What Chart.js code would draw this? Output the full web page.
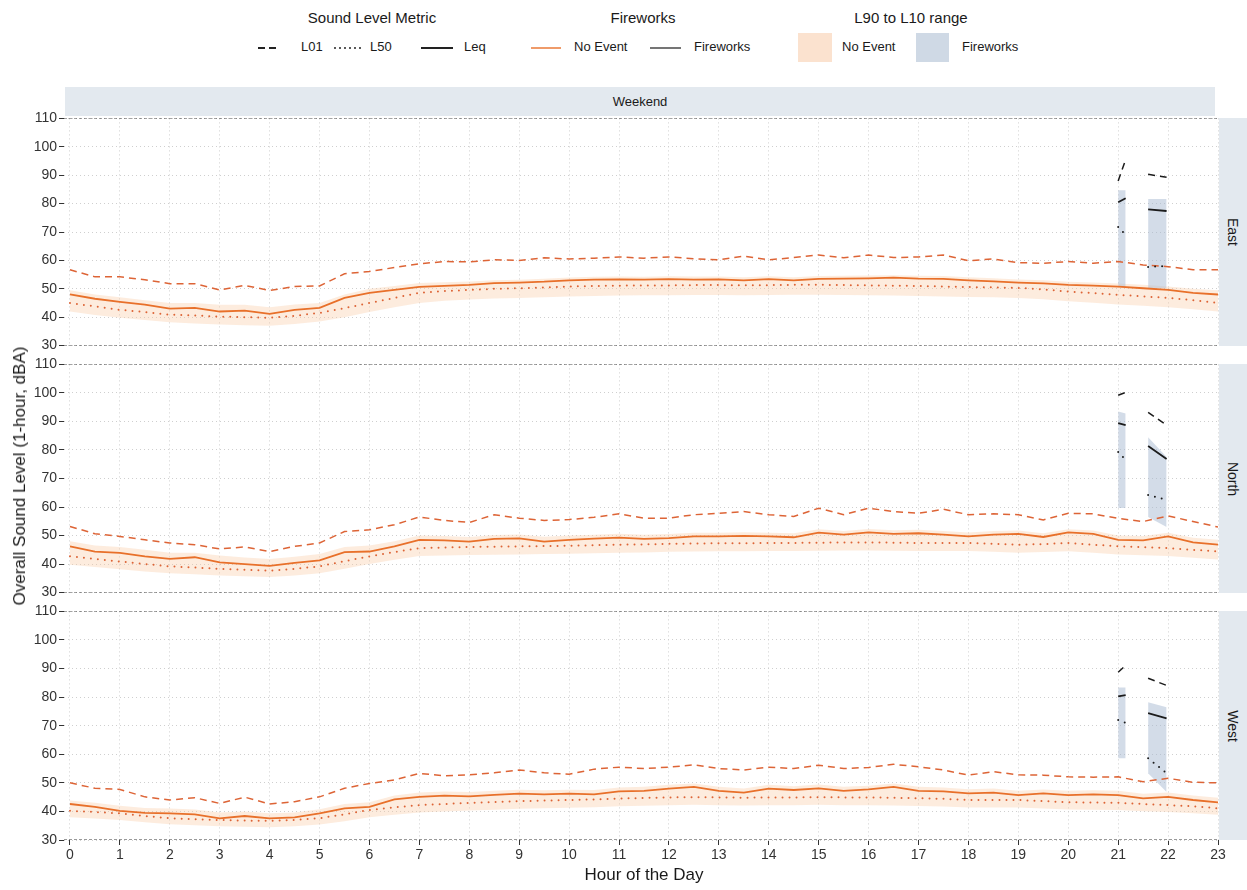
<!DOCTYPE html>
<html>
<head>
<meta charset="utf-8">
<script src="https://cdn.jsdelivr.net/npm/chart.js"></script>
<style>
  body { margin: 0; background: #fff; font-family: "Liberation Sans", Arial, sans-serif; color: #1a1a1a; }
  #page { position: relative; width: 1247px; height: 890px; overflow: hidden; }
  canvas { position: absolute; left: 0; }
  .abs { position: absolute; white-space: nowrap; }
  .strip { position: absolute; background: #e3e9ef; display: flex; align-items: center; justify-content: center; font-size: 13px; }
  .vtext { transform: rotate(90deg); font-size: 14px; }
  .ltitle { position: absolute; top: 9px; font-size: 15px; transform: translateX(-50%); }
  .llabel { position: absolute; top: 39px; font-size: 13px; }
</style>
</head>
<body>
<div id="page">
  <!-- legend -->
  <div class="ltitle" style="left:372px">Sound Level Metric</div>
  <svg class="abs" style="left:255px;top:40px" width="240" height="16">
    <line x1="3" y1="8" x2="21" y2="8" stroke="#222" stroke-width="1.8" stroke-dasharray="7,4"/>
    <line x1="80" y1="8" x2="108" y2="8" stroke="#222" stroke-width="2" stroke-dasharray="0,5" stroke-linecap="round"/>
    <line x1="166" y1="8" x2="198" y2="8" stroke="#222" stroke-width="2"/>
  </svg>
  <div class="llabel" style="left:301px">L01</div>
  <div class="llabel" style="left:370px">L50</div>
  <div class="llabel" style="left:464px">Leq</div>

  <div class="ltitle" style="left:643px">Fireworks</div>
  <svg class="abs" style="left:528px;top:40px" width="160" height="16">
    <line x1="3" y1="8" x2="33" y2="8" stroke="#e8702a" stroke-width="1.4"/>
    <line x1="122" y1="8" x2="153" y2="8" stroke="#2a2a2a" stroke-width="1.3"/>
  </svg>
  <div class="llabel" style="left:574px">No Event</div>
  <div class="llabel" style="left:694px">Fireworks</div>

  <div class="ltitle" style="left:911px">L90 to L10 range</div>
  <div class="abs" style="left:798px;top:33px;width:34px;height:29px;background:#fbe2cf"></div>
  <div class="abs" style="left:916px;top:33px;width:33px;height:29px;background:#cfd9e5"></div>
  <div class="llabel" style="left:842px">No Event</div>
  <div class="llabel" style="left:962px">Fireworks</div>

  <!-- strips -->
  <div class="strip" style="left:65px;top:87px;width:1150px;height:29px">Weekend</div>
  <div class="strip" style="left:1219px;top:118px;width:28px;height:228px"><span class="vtext">East</span></div>
  <div class="strip" style="left:1219px;top:364px;width:28px;height:229px"><span class="vtext">North</span></div>
  <div class="strip" style="left:1219px;top:611px;width:28px;height:229px"><span class="vtext">West</span></div>

  <canvas id="east" width="1247" height="248" style="top:108px"></canvas>
  <canvas id="north" width="1247" height="249" style="top:354px"></canvas>
  <canvas id="west" width="1247" height="269" style="top:601px"></canvas>

  <div class="abs" style="left:20px;top:476px;font-size:17px;transform:translate(-50%,-50%) rotate(-90deg)">Overall Sound Level (1-hour, dBA)</div>
  <div class="abs" style="left:644px;top:865px;font-size:17px;transform:translateX(-50%)">Hour of the Day</div>
</div>

<script>
// half-hour steps, 0 to 23
const hours = [0, 0.5, 1, 1.5, 2, 2.5, 3, 3.5, 4, 4.5, 5, 5.5, 6, 6.5, 7, 7.5, 8, 8.5, 9, 9.5, 10, 10.5, 11, 11.5,
  12, 12.5, 13, 13.5, 14, 14.5, 15, 15.5, 16, 16.5, 17, 17.5, 18, 18.5, 19, 19.5, 20, 20.5, 21, 21.5, 22, 22.5, 23];
const hourTicks = [0, 1, 2, 3, 4, 5, 6, 7, 8, 9, 10, 11, 12, 13, 14, 15, 16, 17, 18, 19, 20, 21, 22, 23];
const levelTicks = [30, 40, 50, 60, 70, 80, 90, 100, 110];
const refLevels = [30, 110];
const hourLimits = [-0.12, 23];

// East, no event
const eastLeq = [48.0, 46.5, 45.4, 44.4, 43.0, 43.3, 42.0, 42.3, 41.2, 42.6, 43.3, 46.8, 48.6, 49.6, 50.7, 51.0, 51.4, 52.0, 52.2, 52.5, 53.0, 53.2, 53.3, 53.2,
  53.4, 53.2, 53.3, 53.0, 53.4, 53.0, 53.5, 53.6, 53.7, 53.9, 53.6, 53.5, 53.0, 52.6, 52.2, 51.9, 51.4, 51.1, 50.8, 50.2, 49.6, 48.6, 48.0];
const eastL50 = [45.0, 43.8, 42.6, 41.8, 40.9, 40.6, 40.2, 40.0, 39.8, 40.5, 41.5, 43.2, 45.0, 46.8, 48.6, 49.2, 49.6, 50.0, 50.2, 50.5, 50.8, 51.0, 51.1, 51.2,
  51.2, 51.3, 51.3, 51.2, 51.3, 51.4, 51.4, 51.3, 51.2, 51.1, 51.0, 50.8, 50.6, 50.5, 50.3, 49.8, 49.0, 48.5, 47.9, 47.3, 46.8, 46.0, 45.0];
const eastL01 = [56.7, 54.2, 54.2, 53.2, 51.8, 51.8, 49.6, 51.2, 49.4, 50.8, 51.0, 55.3, 56.1, 57.5, 58.8, 59.6, 59.5, 60.2, 60.0, 60.9, 60.5, 60.8, 61.2, 60.8,
  61.2, 60.6, 60.2, 61.5, 60.2, 61.0, 61.9, 60.9, 61.9, 61.0, 61.2, 61.9, 59.9, 60.5, 59.2, 59.0, 59.6, 59.0, 59.6, 58.4, 57.8, 56.7, 56.7];
const eastL10 = [49.5, 48.0, 47.0, 46.0, 45.0, 45.0, 44.4, 44.4, 43.5, 44.5, 45.0, 48.0, 50.0, 51.0, 52.0, 52.3, 52.6, 53.0, 53.2, 53.5, 54.0, 54.2, 54.3, 54.2,
  54.4, 54.3, 54.3, 54.1, 54.4, 54.1, 54.5, 54.6, 54.7, 54.8, 54.6, 54.5, 54.1, 53.7, 53.3, 53.0, 52.5, 52.2, 51.9, 51.4, 50.8, 50.0, 49.5];
const eastL90 = [42.0, 40.8, 39.8, 39.0, 38.2, 37.8, 37.4, 37.2, 37.0, 37.6, 38.5, 40.0, 41.8, 43.5, 45.0, 45.8, 46.2, 46.6, 46.8, 47.0, 47.3, 47.5, 47.6, 47.7,
  47.7, 47.8, 47.8, 47.7, 47.8, 47.9, 47.9, 47.8, 47.7, 47.6, 47.5, 47.3, 47.1, 47.0, 46.8, 46.3, 45.6, 45.1, 44.5, 44.0, 43.5, 42.8, 42.0];

// North, no event
const northLeq = [46.2, 44.4, 43.9, 42.7, 41.8, 42.4, 40.6, 40.0, 39.4, 40.4, 41.3, 44.2, 44.4, 46.2, 48.5, 48.3, 47.9, 48.8, 49.0, 47.9, 48.5, 48.9, 49.3, 48.8,
  49.1, 49.7, 49.7, 49.9, 49.7, 49.4, 51.0, 50.3, 51.1, 50.6, 50.8, 50.3, 49.7, 50.3, 50.6, 49.5, 51.1, 50.6, 48.5, 48.3, 49.7, 47.6, 46.8];
const northL50 = [42.7, 41.8, 40.9, 40.0, 39.2, 38.8, 38.3, 38.0, 37.7, 38.3, 39.2, 41.0, 42.7, 44.2, 45.6, 45.8, 46.0, 46.1, 46.2, 46.3, 46.4, 46.6, 46.8, 46.9,
  47.1, 47.2, 47.3, 47.3, 47.4, 47.4, 47.5, 47.6, 47.6, 47.5, 47.4, 47.4, 47.4, 47.1, 46.8, 47.0, 47.4, 46.8, 46.2, 45.9, 45.6, 45.0, 44.4];
const northL01 = [53.2, 50.6, 49.7, 48.5, 47.4, 46.8, 45.3, 46.0, 44.4, 46.2, 47.4, 51.4, 52.0, 53.8, 56.5, 55.3, 54.6, 57.3, 56.1, 55.3, 55.6, 56.4, 57.6, 56.1,
  56.1, 57.3, 57.8, 58.4, 57.3, 56.7, 59.6, 57.3, 59.6, 58.4, 57.8, 59.2, 57.3, 57.6, 57.3, 55.5, 57.8, 57.6, 56.0, 54.9, 56.9, 54.9, 53.0];
const northL10 = [48.0, 46.5, 46.0, 45.0, 44.0, 44.0, 43.0, 42.3, 41.8, 42.6, 43.5, 46.0, 46.5, 48.0, 50.0, 49.8, 49.5, 50.2, 50.4, 49.6, 50.0, 50.3, 50.6, 50.3,
  50.5, 51.0, 51.0, 51.2, 51.0, 50.8, 52.2, 51.6, 52.3, 51.9, 52.0, 51.6, 51.1, 51.6, 51.8, 50.8, 52.2, 51.8, 50.0, 49.8, 51.0, 49.2, 48.5];
const northL90 = [39.8, 39.0, 38.2, 37.4, 36.8, 36.4, 36.0, 35.7, 35.5, 36.0, 36.8, 38.4, 40.0, 41.5, 42.8, 43.0, 43.2, 43.3, 43.4, 43.5, 43.6, 43.8, 44.0, 44.1,
  44.3, 44.4, 44.5, 44.5, 44.6, 44.6, 44.7, 44.8, 44.8, 44.7, 44.6, 44.6, 44.6, 44.3, 44.0, 44.2, 44.5, 44.0, 43.4, 43.1, 42.8, 42.2, 41.6];

// West, no event
const westLeq = [42.6, 41.6, 40.2, 39.5, 39.3, 39.0, 37.6, 38.4, 37.6, 37.9, 39.3, 41.1, 41.6, 44.2, 45.1, 45.5, 45.3, 45.8, 46.2, 46.0, 46.2, 46.0, 47.0, 47.2,
  48.0, 48.6, 47.2, 46.6, 48.0, 47.5, 48.1, 47.2, 47.7, 48.6, 47.2, 47.0, 46.3, 46.6, 45.7, 46.3, 45.7, 46.0, 45.7, 44.6, 45.1, 44.0, 43.2];
const westL50 = [40.2, 39.8, 39.3, 38.4, 37.6, 37.3, 37.0, 36.8, 36.7, 37.0, 37.6, 39.0, 40.5, 41.4, 42.2, 42.6, 43.0, 43.3, 43.6, 43.8, 44.0, 44.2, 44.5, 44.7,
  44.9, 45.0, 44.9, 44.8, 44.9, 44.9, 45.0, 44.9, 44.9, 44.8, 44.6, 44.4, 44.0, 44.0, 44.0, 43.6, 43.2, 43.1, 43.0, 42.6, 42.2, 41.8, 41.1];
const westL01 = [50.0, 48.1, 47.7, 45.1, 44.0, 44.8, 42.8, 45.0, 42.6, 43.4, 45.1, 48.1, 49.8, 51.0, 53.3, 52.5, 52.8, 53.5, 54.5, 53.5, 53.0, 54.8, 55.5, 55.0,
  55.5, 56.3, 55.0, 54.5, 55.5, 55.0, 56.2, 55.0, 55.4, 56.5, 55.6, 54.5, 52.7, 53.9, 52.8, 52.7, 52.1, 52.0, 52.1, 50.4, 51.6, 50.2, 50.0];
const westL10 = [43.8, 43.0, 42.0, 41.2, 41.0, 40.7, 39.6, 40.0, 39.4, 39.6, 40.8, 42.6, 43.2, 45.6, 46.6, 47.0, 46.8, 47.2, 47.6, 47.4, 47.6, 47.5, 48.4, 48.6,
  49.3, 49.8, 48.6, 48.0, 49.3, 48.8, 49.4, 48.6, 49.0, 49.8, 48.6, 48.4, 47.8, 48.0, 47.2, 47.7, 47.2, 47.4, 47.2, 46.2, 46.6, 45.6, 44.8];
const westL90 = [38.0, 37.5, 37.0, 36.2, 35.5, 35.2, 34.8, 34.6, 34.5, 34.8, 35.4, 36.6, 38.0, 38.8, 39.6, 40.0, 40.3, 40.6, 40.9, 41.1, 41.3, 41.5, 41.8, 42.0,
  42.2, 42.3, 42.2, 42.1, 42.2, 42.2, 42.3, 42.2, 42.2, 42.1, 41.9, 41.7, 41.4, 41.4, 41.4, 41.0, 40.7, 40.6, 40.5, 40.1, 39.8, 39.4, 38.8];

// fireworks nights: two short bursts, null = no reading
const fwHours = [21.0, 21.15, 21.4, 21.6, 21.97];
const eastFwLeq = [80.5, 81.9, null, 78.0, 77.4];
const eastFwL50 = [71.8, 69.0, null, 57.7, 58.0];
const eastFwL01 = [88.0, 95.5, null, 90.3, 89.3];
const eastFwL10 = [84.7, 84.7, null, 81.6, 81.6];
const eastFwL90 = [50.7, 50.7, null, 50.2, 50.2];
const northFwLeq = [89.4, 88.7, null, 81.4, 76.8];
const northFwL50 = [79.3, 76.5, null, 64.2, 62.5];
const northFwL01 = [99.2, 100.2, null, 93.2, 88.7];
const northFwL10 = [93.5, 92.8, null, 84.5, 77.5];
const northFwL90 = [59.7, 59.7, null, 56.5, 53.0];
const westFwLeq = [80.3, 80.7, null, 74.4, 72.6];
const westFwL50 = [72.0, 71.0, null, 58.6, 53.4];
const westFwL01 = [88.7, 91.1, null, 86.6, 84.1];
const westFwL10 = [83.4, 83.4, null, 78.2, 76.5];
const westFwL90 = [58.6, 58.6, null, 53.4, 46.8];

const orange = '#e8702a';
const dark = '#1c1c1c';

function pts(xs, ys) {
  return xs.map((x, i) => ({ x: x, y: ys[i] }));
}

function lineSet(data, color, kind) {
  let ds = { data: data, borderColor: color, fill: false, pointRadius: 0, spanGaps: false };
  if (kind === 'L01') { ds.borderWidth = 1.5; ds.borderDash = [7, 5]; }
  else if (kind === 'L50') { ds.borderWidth = 2; ds.borderDash = [0, 7]; ds.borderCapStyle = 'round'; }
  else { ds.borderWidth = 1.8; }
  return ds;
}

function buildPanel(id, ne, fw, showX) {
  let datasets = [];
  refLevels.forEach(lv => {
    datasets.push({ data: pts(hourLimits, [lv, lv]), borderColor: '#333', borderWidth: 1, borderDash: [3, 2], pointRadius: 0, fill: false });
  });
  datasets.push(lineSet(pts(fwHours, fw.leq), dark, 'Leq'));
  datasets.push(lineSet(pts(fwHours, fw.l01), dark, 'L01'));
  datasets.push(lineSet(pts(fwHours, fw.l50), dark, 'L50'));
  datasets.push(lineSet(pts(hours, ne.leq), orange, 'Leq'));
  datasets.push(lineSet(pts(hours, ne.l01), '#dd6436', 'L01'));
  datasets.push(lineSet(pts(hours, ne.l50), '#dd6436', 'L50'));
  // L90 to L10 ribbons
  datasets.push({ data: pts(fwHours, fw.l10), borderWidth: 0, pointRadius: 0, spanGaps: false, fill: '+1', backgroundColor: 'rgba(168,186,210,0.5)' });
  datasets.push({ data: pts(fwHours, fw.l90), borderWidth: 0, pointRadius: 0, spanGaps: false, fill: false });
  datasets.push({ data: pts(hours, ne.l10), borderWidth: 0, pointRadius: 0, fill: '+1', backgroundColor: 'rgba(250,200,160,0.35)' });
  datasets.push({ data: pts(hours, ne.l90), borderWidth: 0, pointRadius: 0, fill: false });

  const gridCommon = { color: '#cfcfcf', lineWidth: 1, tickColor: '#333', tickLength: 5, tickBorderDash: [], tickWidth: 1 };

  return new Chart(document.getElementById(id), {
    type: 'line',
    data: { datasets: datasets },
    options: {
      responsive: false,
      animation: false,
      layout: { padding: { top: 10, right: 29, bottom: showX ? 0 : 10, left: 0 } },
      plugins: { legend: { display: false }, tooltip: { enabled: false } },
      elements: { line: { tension: 0 }, point: { radius: 0 } },
      scales: {
        x: {
          type: 'linear',
          min: hourLimits[0],
          max: hourLimits[1],
          afterBuildTicks: s => { s.ticks = hourTicks.map(v => ({ value: v })); },
          afterFit: s => { s.height = showX ? 30 : 0; },
          ticks: { display: showX, autoSkip: false, maxRotation: 0, color: '#333', padding: 2,
                   font: { family: 'Liberation Sans', size: 14 } },
          grid: Object.assign({}, gridCommon, { drawTicks: showX }),
          border: { display: false, dash: [1, 3] }
        },
        y: {
          min: 30,
          max: 110,
          afterBuildTicks: s => { s.ticks = levelTicks.map(v => ({ value: v })); },
          afterFit: s => { s.width = 64; },
          ticks: { color: '#333', padding: 2, font: { family: 'Liberation Sans', size: 14 } },
          grid: gridCommon,
          border: { display: false, dash: [1, 3] }
        }
      }
    }
  });
}

buildPanel('east',
  { leq: eastLeq, l50: eastL50, l01: eastL01, l10: eastL10, l90: eastL90 },
  { leq: eastFwLeq, l50: eastFwL50, l01: eastFwL01, l10: eastFwL10, l90: eastFwL90 }, false);
buildPanel('north',
  { leq: northLeq, l50: northL50, l01: northL01, l10: northL10, l90: northL90 },
  { leq: northFwLeq, l50: northFwL50, l01: northFwL01, l10: northFwL10, l90: northFwL90 }, false);
buildPanel('west',
  { leq: westLeq, l50: westL50, l01: westL01, l10: westL10, l90: westL90 },
  { leq: westFwLeq, l50: westFwL50, l01: westFwL01, l10: westFwL10, l90: westFwL90 }, true);
</script>
</body>
</html>
